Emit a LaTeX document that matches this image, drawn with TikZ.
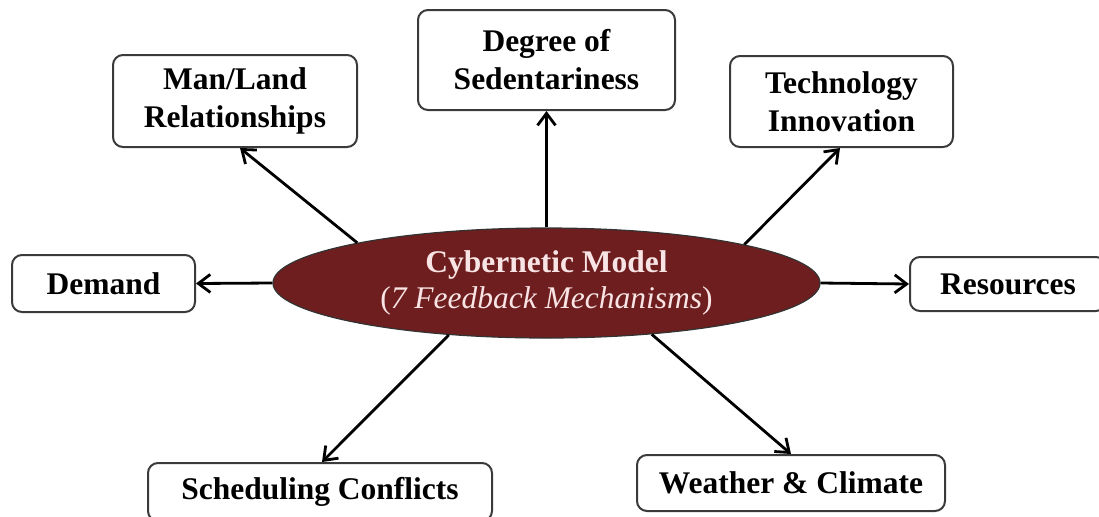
\documentclass[tikz,border=0pt]{standalone}
\usepackage{fontspec}
\setmainfont{Liberation Serif}
\usetikzlibrary{shapes.geometric,arrows.meta}
\definecolor{maroon}{HTML}{6E1E1E}
\definecolor{pinkwhite}{HTML}{F8E4E4}
\definecolor{boxline}{HTML}{3A3A3A}
\tikzset{
  fbox/.style={draw=boxline, line width=1pt, rounded corners=5pt, fill=white,
    align=center, inner sep=0pt, font=\fontsize{15.75}{19}\selectfont\bfseries},
  conn/.style={line width=1.4pt, -{Straight Barb[length=6pt,width=9pt,line width=1.4pt]}},
  hub/.style={ellipse, draw=black!80, line width=0.6pt, fill=maroon, text=pinkwhite,
    inner sep=0pt, minimum width=273.5pt, minimum height=55pt, align=center,
    font=\fontsize{15.75}{18}\selectfont}
}
\begin{document}
\begin{tikzpicture}[x=0.5pt,y=-0.5pt]
\useasboundingbox (0,0) rectangle (1099,516);
\clip (0,0) rectangle (1099,516);
\node[hub] (ell) at (546.5,283) {\textbf{Cybernetic Model}\\(\textit{7 Feedback Mechanisms})};
\node[fbox, minimum width=122pt, minimum height=46pt] (man) at (235,101) {Man/Land\\Relationships};
\node[fbox, minimum width=128.5pt, minimum height=50pt] (deg) at (546.5,60) {Degree of\\Sedentariness};
\node[fbox, minimum width=111.5pt, minimum height=45.5pt] (tech) at (841.5,101.5) {Technology\\Innovation};
\node[fbox, minimum width=91.5pt, minimum height=28.5pt] (dem) at (103.5,283.5) {Demand};
\node[fbox, minimum width=98pt, minimum height=27pt] (res) at (1008,284) {Resources};
\node[fbox, minimum width=172pt, minimum height=29pt] (sch) at (320,492) {Scheduling Conflicts};
\node[fbox, minimum width=154pt, minimum height=28pt] (wea) at (791,483) {Weather \& Climate};
\draw[conn] (ell.north) -- (deg.south);
\draw[conn] (ell.168.3) -- ([xshift=2.5pt]man.south);
\draw[conn] (ell.11.8) -- ([xshift=-0.75pt]tech.south);
\draw[conn] (ell.west) -- (dem.east);
\draw[conn] (ell.east) -- (res.west);
\draw[conn] (ell.208.6) -- ([xshift=1pt]sch.north);
\draw[conn] (ell.334.1) -- (wea.north);
\end{tikzpicture}
\end{document}
